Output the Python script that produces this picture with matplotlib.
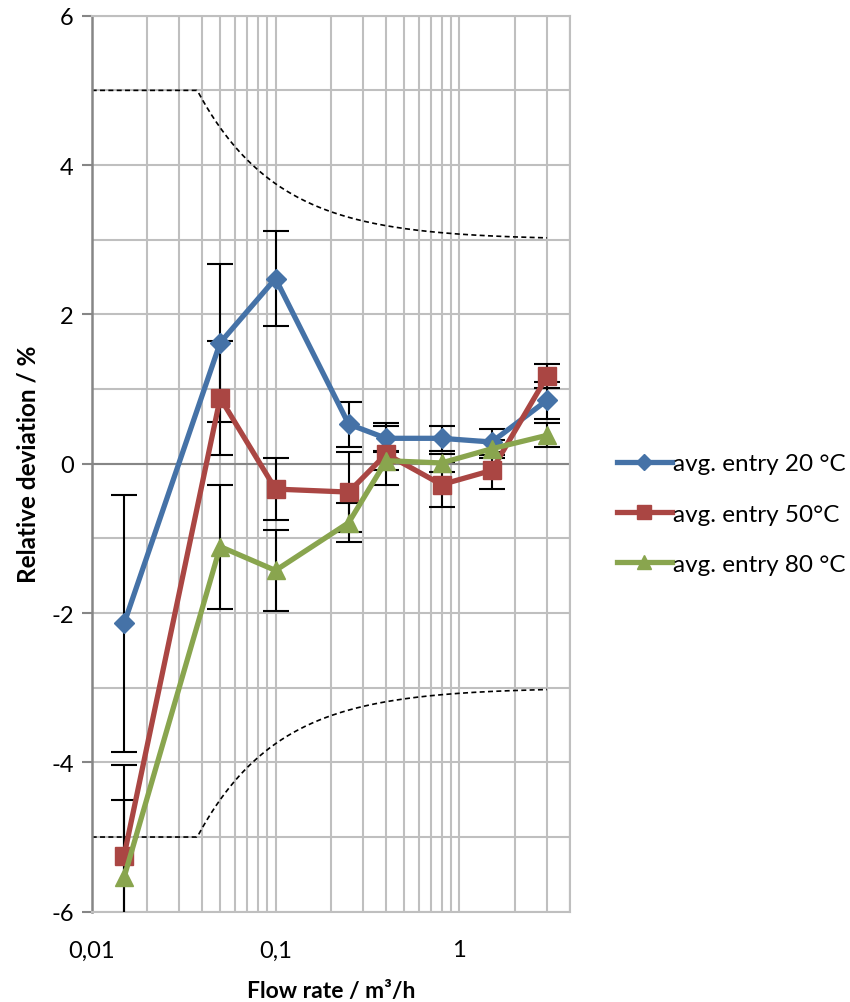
import numpy as np
import matplotlib
matplotlib.use("Agg")
import matplotlib.pyplot as plt
from matplotlib.ticker import FixedLocator, NullFormatter, NullLocator

plt.rcParams['font.family'] = ['Lato', 'DejaVu Sans']

# Measured flow rates (m³/h)
flow = [0.015, 0.05, 0.1, 0.25, 0.4, 0.8, 1.5, 3.0]

# Mean relative deviation (%) and standard deviation for each entry temperature
dev_20 = [-2.14, 1.62, 2.48, 0.53, 0.34, 0.34, 0.29, 0.85]
err_20 = [1.72, 1.06, 0.63, 0.30, 0.17, 0.17, 0.17, 0.25]

dev_50 = [-5.25, 0.88, -0.34, -0.38, 0.13, -0.28, -0.09, 1.17]
err_50 = [1.21, 0.76, 0.41, 0.54, 0.41, 0.30, 0.25, 0.16]

dev_80 = [-5.54, -1.11, -1.43, -0.79, 0.04, 0.01, 0.20, 0.38]
err_80 = [1.04, 0.83, 0.54, 0.26, 0.12, 0.12, 0.12, 0.16]

labels = ["avg. entry 20 °C", "avg. entry 50°C", "avg. entry 80 °C"]

# Maximum permissible error: ±(3 + 0.05·qp/q) %, capped at 5 %
mpe_base = 3.0
mpe_coeff = 0.05
qp = 1.5
mpe_cap = 5.0
q_limit = np.geomspace(0.01, 3.0, 400)
mpe = np.minimum(mpe_base + mpe_coeff * qp / q_limit, mpe_cap)

fig = plt.figure(figsize=(8.5, 10.03), dpi=100)
ax = fig.add_axes([91.7 / 850, 1 - 912.7 / 1003, (570 - 91.7) / 850, (912.7 - 16.7) / 1003])

ax.set_xscale('log')
ax.set_xlim(0.01, 4)
ax.set_ylim(-6, 6)

grid_c = '#BFBFBF'
axis_c = '#868686'

# Grid
xgrid = [m * 10.0 ** e for e in (-2, -1, 0) for m in range(1, 10)] + [4]
xgrid = [v for v in xgrid if 0.01 < v <= 4]
for v in xgrid:
    ax.axvline(v, color=grid_c, lw=1.5, zorder=0)
for v in range(-6, 7):
    ax.axhline(v, color=grid_c, lw=1.5, zorder=0)
ax.axhline(0, color=axis_c, lw=1.5, zorder=1)

for side in ('top', 'right', 'bottom'):
    ax.spines[side].set_color(grid_c)
    ax.spines[side].set_linewidth(1.5)
ax.spines['left'].set_color(axis_c)
ax.spines['left'].set_linewidth(1.8)

# Tolerance band
ax.plot(q_limit, mpe, color='black', lw=1.2, ls=(0, (3, 2)), zorder=2)
ax.plot(q_limit, -mpe, color='black', lw=1.2, ls=(0, (3, 2)), zorder=2)

series = [
    (dev_20, err_20, '#4572A7', 'D', 10.5),
    (dev_50, err_50, '#AA4643', 's', 13.5),
    (dev_80, err_80, '#89A54E', '^', 13.5),
]
handles = []
for (dev, err, col, mk, ms), lab in zip(series, labels):
    ax.errorbar(flow, dev, yerr=err, fmt='none', ecolor='black', elinewidth=1.5,
                capsize=9.5, capthick=1.5, zorder=3)
    h, = ax.plot(flow, dev, color=col, lw=3.8, marker=mk, markersize=ms,
                 markeredgecolor=col, zorder=4, label=lab, clip_on=True)
    handles.append(h)

# Ticks
ax.xaxis.set_major_locator(FixedLocator([0.01, 0.1, 1]))
ax.xaxis.set_minor_locator(NullLocator())
ax.xaxis.set_minor_formatter(NullFormatter())
ax.set_xticklabels(["0,01", "0,1", "1"])
ax.tick_params(axis='x', length=0, pad=20, labelsize=17)
ax.set_yticks(range(-6, 7, 2))
ax.set_yticklabels([str(v) for v in range(-6, 7, 2)])
ax.tick_params(axis='y', length=7, width=1.5, color=axis_c, pad=6, labelsize=17)

ax.set_xlabel("Flow rate / m³/h", fontsize=16.5, fontweight='bold', labelpad=14)
ax.set_ylabel("Relative deviation / %", fontsize=17.5, fontweight='bold', labelpad=8)

fig.legend(handles=handles, labels=labels, loc='center left',
           bbox_to_anchor=(595 / 850, 1 - 515 / 1003), frameon=False,
           fontsize=17.5, handlelength=2.25, handletextpad=0.05,
           labelspacing=1.2, markerscale=0.75)

fig.savefig("out.png", dpi=100)
